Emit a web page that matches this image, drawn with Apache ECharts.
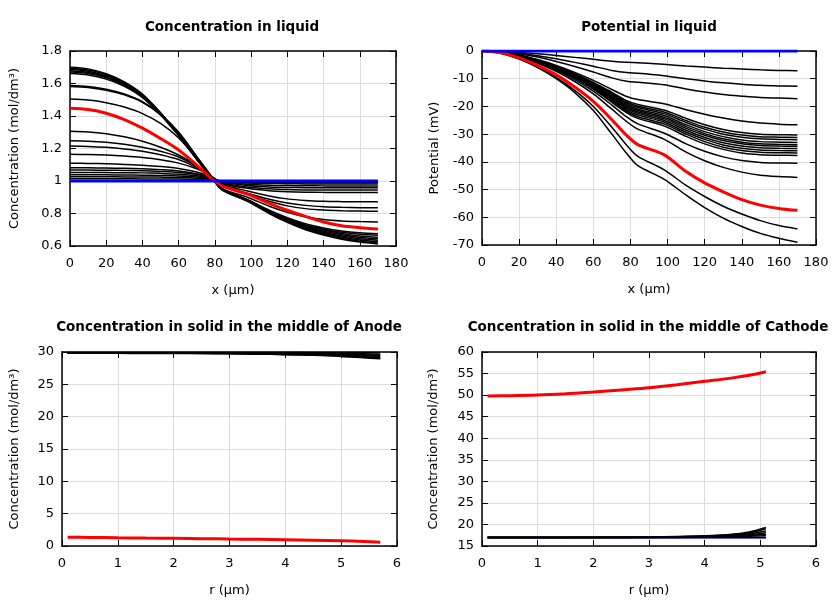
<!DOCTYPE html>
<html><head><meta charset="utf-8">
<script src="https://cdn.jsdelivr.net/npm/echarts@6/dist/echarts.min.js"></script>
<style>html,body{margin:0;padding:0;background:#fff}#c{width:840px;height:600px}</style>
</head><body><div id="c"></div>
<script>
// ---------- DATA ----------
const titles = ["Concentration in liquid", "Potential in liquid",
  "Concentration in solid in the middle of Anode", "Concentration in solid in the middle of Cathode"];
const xLiquid = [0,10,20,30,40,50,60,70,78,84,98,110,120,130,140,150,160,170];

const concLiquidBlack = [
  [1.700,1.690,1.660,1.610,1.535,1.420,1.285,1.135,1.025,0.945,0.875,0.800,0.745,0.700,0.668,0.642,0.624,0.612],
  [1.693,1.683,1.654,1.605,1.531,1.418,1.284,1.135,1.025,0.946,0.877,0.803,0.749,0.705,0.673,0.648,0.630,0.619],
  [1.686,1.676,1.648,1.600,1.527,1.416,1.283,1.134,1.025,0.947,0.879,0.806,0.753,0.710,0.679,0.655,0.637,0.627],
  [1.679,1.669,1.642,1.595,1.523,1.414,1.282,1.134,1.025,0.948,0.881,0.809,0.757,0.715,0.685,0.662,0.645,0.636],
  [1.671,1.662,1.635,1.589,1.518,1.411,1.280,1.133,1.025,0.949,0.883,0.812,0.761,0.720,0.691,0.669,0.653,0.645],
  [1.662,1.653,1.627,1.582,1.513,1.407,1.278,1.132,1.025,0.950,0.885,0.815,0.765,0.726,0.698,0.677,0.662,0.654],
  [1.588,1.582,1.565,1.535,1.488,1.410,1.300,1.150,1.030,0.950,0.882,0.815,0.768,0.730,0.703,0.684,0.672,0.666],
  [1.581,1.575,1.558,1.530,1.484,1.407,1.298,1.149,1.030,0.951,0.885,0.820,0.774,0.737,0.711,0.692,0.681,0.676],
  [1.504,1.498,1.482,1.455,1.415,1.355,1.265,1.140,1.030,0.955,0.900,0.845,0.808,0.780,0.763,0.754,0.750,0.748],
  [1.306,1.302,1.291,1.272,1.245,1.208,1.160,1.095,1.030,0.970,0.918,0.875,0.847,0.830,0.821,0.817,0.815,0.814],
  [1.248,1.245,1.238,1.226,1.208,1.183,1.148,1.090,1.030,0.975,0.925,0.888,0.865,0.850,0.842,0.838,0.836,0.835],
  [1.215,1.213,1.207,1.197,1.183,1.162,1.132,1.082,1.028,0.980,0.938,0.908,0.890,0.880,0.875,0.873,0.872,0.872],
  [1.164,1.163,1.160,1.154,1.145,1.131,1.110,1.075,1.030,0.985,0.955,0.940,0.934,0.931,0.930,0.930,0.930,0.930],
  [1.109,1.108,1.106,1.102,1.097,1.089,1.077,1.055,1.025,0.990,0.963,0.952,0.947,0.945,0.944,0.944,0.944,0.944],
  [1.081,1.081,1.080,1.078,1.075,1.070,1.062,1.045,1.022,0.993,0.972,0.963,0.960,0.959,0.958,0.958,0.958,0.958],
  [1.067,1.067,1.066,1.065,1.063,1.059,1.053,1.040,1.020,0.995,0.980,0.974,0.972,0.971,0.970,0.970,0.970,0.970],
  [1.053,1.053,1.052,1.051,1.050,1.047,1.042,1.032,1.017,0.997,0.988,0.985,0.983,0.982,0.982,0.982,0.982,0.982],
  [1.038,1.038,1.038,1.037,1.036,1.034,1.031,1.024,1.012,0.998,0.993,0.991,0.990,0.990,0.990,0.990,0.990,0.990],
  [1.026,1.026,1.026,1.025,1.025,1.024,1.022,1.017,1.009,0.999,0.996,0.995,0.995,0.995,0.995,0.995,0.995,0.995],
  [1.014,1.014,1.014,1.014,1.013,1.013,1.012,1.009,1.005,1.000,0.998,0.998,0.998,0.998,0.998,0.998,0.998,0.998]
];
const concLiquidRed = [1.448,1.440,1.417,1.378,1.325,1.262,1.191,1.098,1.016,0.970,0.919,0.862,0.820,0.782,0.748,0.725,0.713,0.705];
const concLiquidBlue = [1,1,1,1,1,1,1,1,1,1,1,1,1,1,1,1,1,1];

const potLiquidBlack = [
  [0,-0.1,-0.5,-1.0,-1.6,-2.3,-3.0,-3.7,-4.1,-4.2,-4.8,-5.4,-5.8,-6.2,-6.5,-6.8,-7.0,-7.1],
  [0,-0.2,-0.8,-1.7,-2.8,-4.1,-5.5,-7.0,-7.8,-8.0,-8.9,-10.0,-10.8,-11.5,-12.0,-12.4,-12.6,-12.7],
  [0,-0.3,-1.0,-2.2,-3.8,-5.6,-7.6,-9.7,-10.9,-11.3,-12.2,-13.7,-14.8,-15.7,-16.3,-16.8,-17.0,-17.2],
  [0,-0.4,-1.4,-3.1,-5.2,-7.7,-10.6,-13.9,-16.4,-17.5,-19.0,-21.2,-22.8,-24.2,-25.3,-26.0,-26.4,-26.6],
  [0,-0.4,-1.5,-3.3,-5.5,-8.2,-11.3,-14.9,-17.9,-19.3,-21.3,-24.3,-26.6,-28.3,-29.4,-30.0,-30.2,-30.3],
  [0,-0.4,-1.5,-3.4,-5.7,-8.4,-11.6,-15.3,-18.4,-19.9,-22.0,-25.1,-27.5,-29.2,-30.3,-30.9,-31.1,-31.2],
  [0,-0.4,-1.6,-3.4,-5.8,-8.6,-11.9,-15.7,-18.9,-20.4,-22.6,-25.8,-28.2,-30.0,-31.1,-31.7,-31.9,-32.0],
  [0,-0.4,-1.6,-3.5,-5.9,-8.8,-12.2,-16.1,-19.4,-21.0,-23.3,-26.6,-29.1,-30.9,-32.1,-32.7,-32.9,-33.0],
  [0,-0.4,-1.6,-3.6,-6.0,-9.0,-12.5,-16.5,-19.9,-21.5,-23.9,-27.3,-29.8,-31.7,-32.9,-33.5,-33.7,-33.8],
  [0,-0.4,-1.7,-3.6,-6.1,-9.1,-12.7,-16.8,-20.3,-22.0,-24.4,-27.9,-30.4,-32.3,-33.5,-34.1,-34.3,-34.4],
  [0,-0.4,-1.7,-3.7,-6.2,-9.3,-13.0,-17.2,-20.8,-22.5,-25.0,-28.6,-31.2,-33.1,-34.3,-34.9,-35.1,-35.2],
  [0,-0.5,-1.7,-3.7,-6.3,-9.4,-13.2,-17.6,-21.3,-23.1,-25.6,-29.3,-31.9,-33.9,-35.1,-35.7,-35.9,-36.0],
  [0,-0.5,-1.8,-3.8,-6.4,-9.6,-13.5,-18.0,-21.8,-23.7,-26.3,-30.0,-32.7,-34.7,-35.9,-36.5,-36.7,-36.8],
  [0,-0.5,-1.8,-3.9,-6.5,-9.8,-13.8,-18.5,-22.3,-24.3,-27.0,-30.8,-33.5,-35.5,-36.8,-37.4,-37.6,-37.7],
  [0,-0.5,-1.9,-4.1,-6.9,-10.3,-14.5,-19.5,-23.8,-26.3,-29.6,-33.5,-36.2,-38.2,-39.5,-40.2,-40.4,-40.5],
  [0,-0.5,-2.0,-4.4,-7.3,-11.0,-15.5,-21.0,-25.5,-28.2,-31.8,-36.5,-39.6,-42.0,-43.7,-44.8,-45.3,-45.6],
  [0,-0.7,-2.7,-5.7,-9.5,-14.2,-20.0,-27.5,-34.0,-38.0,-42.8,-48.5,-52.5,-56.0,-58.8,-61.2,-63.0,-64.2],
  [0,-0.8,-2.9,-6.0,-10.0,-15.0,-21.5,-30.0,-37.0,-41.4,-46.2,-52.0,-56.5,-60.3,-63.3,-65.8,-67.6,-69.0]
];
const potLiquidRed = [0,-0.6,-2.5,-5.3,-8.6,-13.0,-18.2,-24.8,-30.5,-33.8,-37.4,-43.5,-47.6,-50.8,-53.6,-55.6,-56.8,-57.5];
const potLiquidBlue = [0,0,0,0,0,0,0,0,0,0,0,0,0,0,0,0,0,0];

const rAnode = [0.1,0.5,1.0,1.5,2.0,2.5,3.0,3.5,4.0,4.5,5.0,5.4,5.7];
const anodeBlack = [
  [29.92,29.92,29.92,29.92,29.92,29.91,29.91,29.91,29.91,29.90,29.90,29.90,29.90],
  [29.90,29.90,29.90,29.90,29.89,29.89,29.88,29.87,29.85,29.82,29.78,29.72,29.65],
  [29.88,29.88,29.88,29.87,29.87,29.86,29.85,29.83,29.80,29.75,29.67,29.57,29.48],
  [29.86,29.86,29.86,29.85,29.84,29.83,29.81,29.78,29.74,29.67,29.57,29.43,29.32],
  [29.84,29.84,29.84,29.83,29.82,29.80,29.78,29.74,29.68,29.60,29.47,29.30,29.16],
  [29.82,29.82,29.82,29.81,29.80,29.78,29.75,29.70,29.63,29.53,29.38,29.18,29.02],
  [29.80,29.80,29.79,29.78,29.77,29.75,29.72,29.67,29.59,29.48,29.32,29.10,28.95]
];
const anodeRed = [1.35,1.33,1.28,1.23,1.19,1.14,1.08,1.03,0.97,0.90,0.82,0.70,0.57];

const rCathode = [0.1,0.5,1.0,1.5,2.0,2.5,3.0,3.5,4.0,4.5,4.8,5.1];
const cathodeBlue = [16.9,16.9,16.9,16.9,16.9,16.9,16.9,16.9,16.9,16.9,16.9,16.9];
const cathodeBlack = [
  [16.95,16.95,16.95,16.95,16.95,16.95,16.95,16.95,16.95,16.95,16.95,16.95],
  [16.97,16.97,16.97,16.97,16.97,16.97,16.98,17.00,17.05,17.15,17.25,17.40],
  [16.98,16.98,16.98,16.98,16.98,16.99,17.00,17.04,17.12,17.28,17.45,17.75],
  [16.99,16.99,16.99,16.99,16.99,17.00,17.02,17.07,17.18,17.40,17.65,18.10],
  [17.00,17.00,17.00,17.00,17.00,17.01,17.04,17.10,17.24,17.52,17.85,18.50],
  [17.00,17.00,17.00,17.00,17.01,17.02,17.06,17.14,17.30,17.64,18.05,19.00],
  [17.01,17.01,17.01,17.01,17.02,17.04,17.08,17.18,17.36,17.75,18.25,19.30]
];
const cathodeRed = [49.8,49.85,50.0,50.3,50.7,51.2,51.7,52.4,53.2,54.0,54.6,55.4];

// ---------- CHART ----------
const FONT = 'DejaVu Sans';
const chart = echarts.init(document.getElementById('c'), null, {renderer:'canvas'});
const grids = [
  {left:70, top:51, width:326, height:195},
  {left:482, top:51, width:334, height:194},
  {left:62, top:352, width:335, height:194},
  {left:482, top:352, width:334, height:194}
];
const xAxes = [], yAxes = [], series = [];
function addAxes(g, xr, yr, xname, yname, yGap) {
  const line = {show:true, onZero:false, lineStyle:{color:'#000', width:1.5}};
  const tick = {show:true, inside:true, length:6, lineStyle:{color:'#000', width:1}};
  const lbl = {color:'#000', fontSize:13, fontFamily:FONT};
  const split = {show:true, lineStyle:{color:'#dcdcdc', width:1}};
  xAxes.push({type:'value', gridIndex:g, min:xr[0], max:xr[1], interval:xr[2], position:'bottom',
    name:xname, nameLocation:'middle', nameGap:38, nameTextStyle:{color:'#000', fontSize:13, fontFamily:FONT},
    axisLine:line, axisTick:tick, axisLabel:Object.assign({margin:11}, lbl), splitLine:split});
  xAxes.push({type:'value', gridIndex:g, min:xr[0], max:xr[1], interval:xr[2], position:'top',
    axisLine:line, axisTick:tick, axisLabel:{show:false}, splitLine:{show:false}});
  yAxes.push({type:'value', gridIndex:g, min:yr[0], max:yr[1], interval:yr[2], position:'left',
    name:yname, nameLocation:'middle', nameGap:yGap, nameTextStyle:{color:'#000', fontSize:13, fontFamily:FONT},
    axisLine:line, axisTick:tick, axisLabel:Object.assign({margin:8}, lbl), splitLine:split});
  yAxes.push({type:'value', gridIndex:g, min:yr[0], max:yr[1], interval:yr[2], position:'right',
    axisLine:line, axisTick:tick, axisLabel:{show:false}, splitLine:{show:false}});
}
function pairs(xs, ys){ return xs.map((x,i)=>[x, ys[i]]); }
function addLine(g, xs, ys, color, width) {
  series.push({type:'line', xAxisIndex:2*g, yAxisIndex:2*g, data:pairs(xs, ys), showSymbol:false,
    smooth:0.3, lineStyle:{color:color, width:width}, itemStyle:{color:color}, silent:true});
}
const concName = 'Concentration (mol/dm³)';
addAxes(0, [0,180,20], [0.6,1.8,0.2], 'x (µm)', concName, 49);
addAxes(1, [0,180,20], [-70,0,10], 'x (µm)', 'Potential (mV)', 41);
addAxes(2, [0,6,1], [0,30,5], 'r (µm)', concName, 41);
addAxes(3, [0,6,1], [15,60,5], 'r (µm)', concName, 42);

concLiquidBlack.forEach(c => addLine(0, xLiquid, c, '#000', 1.5));
addLine(0, xLiquid, concLiquidRed, '#ff0000', 3);
addLine(0, xLiquid, concLiquidBlue, '#0000ff', 3);
potLiquidBlack.forEach(c => addLine(1, xLiquid, c, '#000', 1.5));
addLine(1, xLiquid, potLiquidRed, '#ff0000', 3);
addLine(1, xLiquid, potLiquidBlue, '#0000ff', 3);
anodeBlack.forEach(c => addLine(2, rAnode, c, '#000', 1.5));
addLine(2, rAnode, anodeRed, '#ff0000', 3);
addLine(3, rCathode, cathodeBlue, '#0000ff', 1.5);
cathodeBlack.forEach(c => addLine(3, rCathode, c, '#000', 1.5));
addLine(3, rCathode, cathodeRed, '#ff0000', 3);

const titlePos = [[232,27],[649,27],[229,327],[648,327]];
chart.setOption({
  animation:false,
  grid:grids,
  xAxis:xAxes, yAxis:yAxes, series:series,
  graphic: titles.map((t,i)=>({type:'text', x:titlePos[i][0], y:titlePos[i][1], silent:true,
    style:{text:t, fill:'#000', font:'bold 13.5px "DejaVu Sans"', textAlign:'center', textVerticalAlign:'middle'}}))
});
</script></body></html>
